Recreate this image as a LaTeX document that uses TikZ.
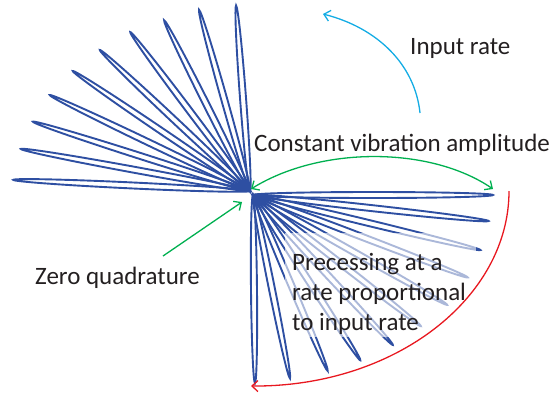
\documentclass[tikz,border=0pt]{standalone}
\usepackage{fontspec}
\setmainfont{Carlito}
\usetikzlibrary{arrows.meta}
\definecolor{lineblue}{RGB}{46,79,162}
\definecolor{arrgreen}{RGB}{0,176,80}
\definecolor{arrcyan}{RGB}{20,172,228}
\definecolor{arrred}{RGB}{232,24,32}
\definecolor{txtgray}{RGB}{35,31,32}
\tikzset{
  loopline/.style={draw=lineblue, line width=1.9bp},
  lbl/.style={anchor=base west, inner sep=0pt, text=txtgray, font=\fontsize{25bp}{30bp}\selectfont},
  arr/.style={line width=1.3bp, -{Straight Barb[length=6bp,width=11bp]}},
  darr/.style={line width=1.3bp, {Straight Barb[length=6bp,width=11bp]}-{Straight Barb[length=6bp,width=11bp]}}
}
\begin{document}
\begin{tikzpicture}[x=1bp,y=-1bp]
\useasboundingbox (0,0) rectangle (555,398);
% upper-left fan
\foreach \a/\l in {177.3/237, 169.6/233, 162.3/228, 154.4/222, 145.9/214, 136.8/206, 127/199, 116.7/191, 105.7/188, 94.3/186}{
  \draw[loopline, shift={(250,191)}, rotate=\a] (\l/2,0) ellipse[x radius=\l/2, y radius=3];
}
% lower-right fan
\foreach \a/\l in {0/240, -6.3/237, -13.6/234, -21/230, -29.5/223, -38/213, -47/205, -57/197, -67/191, -78.6/187, -89.4/188}{
  \draw[loopline, shift={(253,195)}, rotate=\a] (\l/2,0) ellipse[x radius=\l/2, y radius=3];
}
% translucent text box
\fill[white, opacity=0.6] (285,233) rectangle (476,337);
% labels
\node[lbl] (input) at (410,54) {Input rate};
\node[lbl] (const) at (254,151) {Constant vibration amplitude};
\node[lbl] (zero) at (35,284) {Zero quadrature};
\node[lbl] (prec) at (292,270) {Precessing at a};
\node[lbl] (prec2) at (292,300) {rate proportional};
\node[lbl] (prec3) at (292,330) {to input rate};
% connector points
\coordinate (cyS) at (420,113);
\coordinate (cyE) at (323,14);
\coordinate (gL) at (251,189);
\coordinate (gR) at (493,189);
\coordinate (zS) at (163,256);
\coordinate (zE) at (242,202);
\coordinate (rS) at (509,191);
\coordinate (rE) at (251,386);
% arrows
\draw[arr, draw=arrcyan] (cyS) .. controls (415,65) and (378,28) .. (cyE);
\draw[darr, draw=arrgreen] (gL) .. controls (320,146) and (430,146) .. (gR);
\draw[arr, draw=arrgreen] (zS) -- (zE);
\draw[arr, draw=arrred] (rS) .. controls (509,298) and (395,387) .. (rE);
\end{tikzpicture}
\end{document}
